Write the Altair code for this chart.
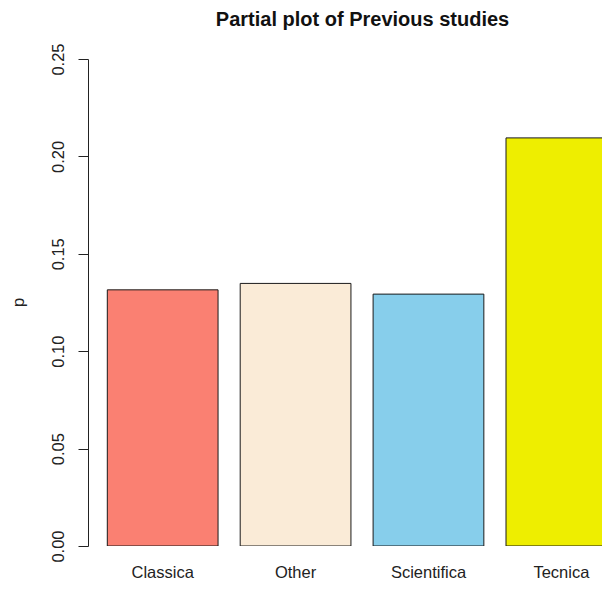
import altair as alt
import pandas as pd

categories = ["Classica", "Other", "Scientifica", "Tecnica"]
values = [0.1315, 0.1348, 0.1293, 0.2095]
colors = ["#FA8072", "#FAEBD7", "#87CEEB", "#EEEE00"]
y_ticks = [0.0, 0.05, 0.10, 0.15, 0.20, 0.25]

df = pd.DataFrame({"study": categories, "p": values})

FONT = "Liberation Sans"

bars = alt.Chart(df).mark_bar(
    clip=True, stroke="#1a1a1a", strokeWidth=1
).encode(
    x=alt.X(
        "study:N",
        sort=categories,
        scale=alt.Scale(range=[19.3, 528.75], paddingInner=1 / 6, paddingOuter=0),
        axis=alt.Axis(
            title=None, domain=False, ticks=False, labelAngle=0,
            labelFont=FONT, labelFontSize=16.5, labelColor="#222",
            labelBaseline="alphabetic", labelPadding=31.5,
        ),
    ),
    y=alt.Y(
        "p:Q",
        scale=alt.Scale(domain=[0, 0.25], nice=False, zero=True),
        axis=alt.Axis(
            title="p", values=y_ticks, format=".2f", grid=False,
            domainColor="#222", tickColor="#222", tickSize=10,
            labelAngle=270, labelAlign="center", labelBaseline="alphabetic",
            labelPadding=14.7, labelFont=FONT, labelFontSize=16.5,
            labelColor="#222", labelFlush=False, labelOverlap=False,
            titleFont=FONT, titleFontSize=16.5, titleFontWeight="normal",
            titleColor="#222", titleAngle=270, titleAlign="center",
            titleBaseline="alphabetic", titleX=-65, titleY=243,
        ),
    ),
    color=alt.Color(
        "study:N",
        scale=alt.Scale(domain=categories, range=colors),
        legend=None,
    ),
)

chart = bars.properties(
    width=514,
    height=487,
    title=alt.TitleParams(
        "Partial plot of Previous studies",
        font=FONT, fontSize=20, fontWeight="bold", color="#111",
        anchor="middle", dx=17.5, dy=-9,
    ),
    autosize=alt.AutoSizeParams(type="none"),
    padding={"left": 80, "top": 51, "right": 0, "bottom": 36},
).configure(background="white").configure_view(stroke=None)

chart.save("out.html", embed_options={"renderer": "svg", "actions": False})
